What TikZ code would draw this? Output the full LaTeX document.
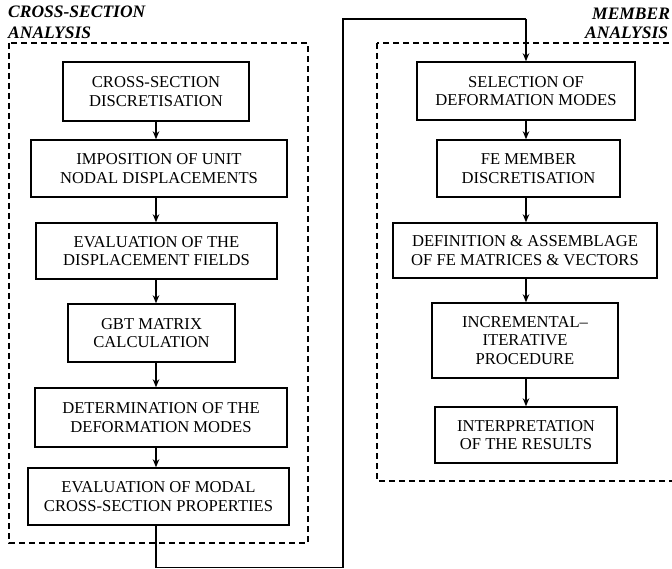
\documentclass[tikz,border=0pt]{standalone}
\usepackage{fontspec}
\setmainfont{Liberation Serif}
\usetikzlibrary{arrows.meta}
\tikzset{
  procbox/.style={draw, line width=1.5pt, align=center, inner sep=0pt,
    font=\fontsize{16.6}{18.8}\selectfont},
  grp/.style={draw, line width=1.8pt, dash pattern=on 6pt off 4pt},
  title/.style={anchor=base west, inner sep=0pt,
    font=\fontsize{17.5}{21}\selectfont\bfseries\itshape},
  flow/.style={line width=1.1pt, -{Stealth[length=8pt,width=6.5pt]}},
  link/.style={line width=1.1pt}
}
\begin{document}
\begin{tikzpicture}[x=1pt,y=-1pt]
\useasboundingbox (0,0) rectangle (672,569);
\clip (0,0) rectangle (672,569);
% group frames
\draw[grp] (9,43) rectangle (308,543);
\draw[grp] (377,43) rectangle (700,481);
% titles
\node[title] (t1) at (8,18) {CROSS-SECTION};
\node[title] (t2) at (8,39) {ANALYSIS};
\node[title] (t3) at (592,20) {MEMBER};
\node[title] (t4) at (585,39) {ANALYSIS};
% left column
\coordinate (ax) at (156,0);
\node[procbox, minimum width=186pt, minimum height=59pt] (b1) at (156,91.5) {CROSS-SECTION\\DISCRETISATION};
\node[procbox, minimum width=256pt, minimum height=57pt] (b2) at (159,168.5) {IMPOSITION OF UNIT\\NODAL DISPLACEMENTS};
\node[procbox, minimum width=241pt, minimum height=56pt] (b3) at (156.5,251) {EVALUATION OF THE\\DISPLACEMENT FIELDS};
\node[procbox, minimum width=167pt, minimum height=58pt] (b4) at (151.5,333) {GBT MATRIX\\CALCULATION};
\node[procbox, minimum width=252pt, minimum height=59pt] (b5) at (161,417.5) {DETERMINATION OF THE\\DEFORMATION MODES};
\node[procbox, minimum width=261pt, minimum height=57pt] (b6) at (158.5,496.5) {EVALUATION OF MODAL\\CROSS-SECTION PROPERTIES};
% right column
\coordinate (bx) at (526,0);
\node[procbox, minimum width=218pt, minimum height=58pt] (b7) at (526,91) {SELECTION OF\\DEFORMATION MODES};
\node[procbox, minimum width=183pt, minimum height=57pt] (b8) at (528.5,168.5) {FE MEMBER\\DISCRETISATION};
\node[procbox, minimum width=264pt, minimum height=55pt] (b9) at (525,250.5) {DEFINITION \& ASSEMBLAGE\\OF FE MATRICES \& VECTORS};
\node[procbox, minimum width=186pt, minimum height=75pt] (b10) at (525,340.5) {INCREMENTAL–\\ITERATIVE\\PROCEDURE};
\node[procbox, minimum width=182pt, minimum height=56pt] (b11) at (526,435) {INTERPRETATION\\OF THE RESULTS};
% arrows left
\draw[flow] (b1.south -| ax) -- (b2.north -| ax);
\draw[flow] (b2.south -| ax) -- (b3.north -| ax);
\draw[flow] (b3.south -| ax) -- (b4.north -| ax);
\draw[flow] (b4.south -| ax) -- (b5.north -| ax);
\draw[flow] (b5.south -| ax) -- (b6.north -| ax);
% arrows right
\draw[flow] (b7.south -| bx) -- (b8.north -| bx);
\draw[flow] (b8.south -| bx) -- (b9.north -| bx);
\draw[flow] (b9.south -| bx) -- (b10.north -| bx);
\draw[flow] (b10.south -| bx) -- (b11.north -| bx);
% link between analyses
\coordinate (c1) at (156,567.5);
\coordinate (c2) at (343,567.5);
\coordinate (c3) at (343,19);
\coordinate (c4) at (526,19);
\draw[link] (b6.south -| ax) -- (c1) -- (c2) -- (c3) -- (c4);
\draw[flow] (c4) -- (b7.north -| bx);
\end{tikzpicture}
\end{document}
